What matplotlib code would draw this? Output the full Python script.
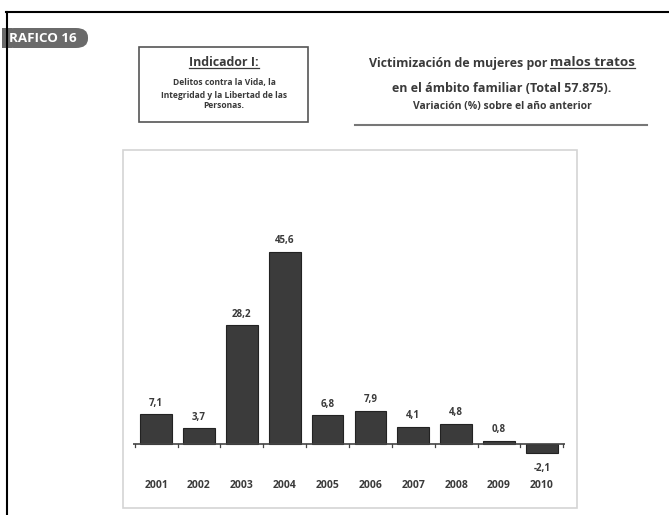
import matplotlib
matplotlib.use("Agg")
import matplotlib.pyplot as plt
from matplotlib.patches import FancyBboxPatch, Rectangle
from matplotlib.lines import Line2D

years = ["2001", "2002", "2003", "2004", "2005", "2006", "2007", "2008", "2009", "2010"]
values = [7.1, 3.7, 28.2, 45.6, 6.8, 7.9, 4.1, 4.8, 0.8, -2.1]
value_labels = ["7,1", "3,7", "28,2", "45,6", "6,8", "7,9", "4,1", "4,8", "0,8", "-2,1"]

W, H = 669, 515
FONT = ["Open Sans", "DejaVu Sans"]
plt.rcParams['font.family'] = FONT

fig = plt.figure(figsize=(W / 100, H / 100), dpi=100)
fig.patch.set_facecolor("white")

def fx(px):
    return px / W

def fy(py):
    return 1 - py / H

TXT = "#3a3a3a"

# badge
fig.add_artist(FancyBboxPatch((fx(2), fy(48)), fx(86), fy(28) - fy(48),
                              boxstyle="round,pad=0,rounding_size=0.018",
                              fc="#6a6a6a", ec="none", transform=fig.transFigure))
fig.add_artist(Rectangle((fx(2), fy(48)), fx(10), fy(28) - fy(48), fc="#6a6a6a", ec="none",
                         transform=fig.transFigure))
fig.text(fx(9), fy(38), "RAFICO 16", color="white", fontsize=9.6, fontweight="bold",
         ha="left", va="center")

# frame lines (top and left)
fig.add_artist(Line2D([fx(6), fx(669)], [fy(12), fy(12)], color="black", lw=1.5))
fig.add_artist(Line2D([fx(7), fx(7)], [fy(12), fy(515)], color="black", lw=1.5))

# indicator box
fig.add_artist(Rectangle((fx(139), fy(122)), fx(308 - 139), fy(47) - fy(122),
                         fill=False, ec="#555555", lw=1.2, transform=fig.transFigure))
t_ind = fig.text(fx(224), fy(63), "Indicador I:", fontsize=8.9, fontweight="bold",
                 color=TXT, ha="center", va="center")
for txt, yy in [("Delitos contra la Vida, la", 83),
                ("Integridad y la Libertad de las", 95),
                ("Personas.", 106)]:
    fig.text(fx(224), fy(yy), txt, fontsize=6.1, fontweight="bold", color=TXT,
             ha="center", va="center")

# right titles
t1a = fig.text(fx(370), fy(63), "Victimización de mujeres por ", fontsize=8.9,
               fontweight="bold", color=TXT, ha="left", va="center")
t1b = fig.text(fx(0), fy(63), "malos tratos", fontsize=9.7, fontweight="bold",
               color=TXT, ha="left", va="center")
fig.text(fx(502), fy(88), "en el ámbito familiar (Total 57.875).", fontsize=9.0,
         fontweight="bold", color=TXT, ha="center", va="center")
fig.text(fx(502), fy(107), "Variación (%) sobre el año anterior", fontsize=7.5,
         fontweight="bold", color=TXT, ha="center", va="center")
fig.add_artist(Line2D([fx(355), fx(647)], [fy(125), fy(125)], color="#777777", lw=1.5))

# chart box
fig.add_artist(Rectangle((fx(123), fy(508)), fx(577 - 123), fy(150) - fy(508),
                         fill=False, ec="#d4d4d4", lw=1.2, transform=fig.transFigure))

# axes
base_py = 444
px_per_unit = 192 / 45.6
ax_top, ax_bot = 220, 460
ax = fig.add_axes([fx(133), fy(ax_bot), fx(565 - 133), fy(ax_top) - fy(ax_bot)])
ax.set_ylim(-(ax_bot - base_py) / px_per_unit, (base_py - ax_top) / px_per_unit)
ax.set_xlim(-0.54, len(years) - 0.46)
x = list(range(len(years)))
ax.bar(x, values, width=0.74, color="#3b3b3b", edgecolor="#222222", linewidth=0.8)
ax.axhline(0, color="#444444", lw=1.2)
for xi in range(len(years) + 1):
    ax.plot([xi - 0.5, xi - 0.5], [0, -0.8], color="#444444", lw=0.9, clip_on=False)
for xi, v, lab in zip(x, values, value_labels):
    if v >= 0:
        ax.annotate(lab, (xi, v), xytext=(0, 4), textcoords="offset points",
                    ha="center", va="bottom", fontsize=7, fontweight="bold", color=TXT)
    else:
        ax.annotate(lab, (xi, v), xytext=(0, -7), textcoords="offset points",
                    ha="center", va="top", fontsize=7, fontweight="bold", color=TXT)
for xi, yr in zip(x, years):
    ax.annotate(yr, (xi, 0), xytext=(0, -(485 - base_py) * 0.72), textcoords="offset points",
                ha="center", va="center", fontsize=7.5, fontweight="bold", color=TXT)
ax.axis("off")

# position the two pieces of the first title line and underline
fig.canvas.draw()
r = fig.canvas.get_renderer()
inv = fig.transFigure.inverted()
wa = t1a.get_window_extent(r).width
wb = t1b.get_window_extent(r).width
start = 502 - (wa + wb) / 2
t1a.set_x(fx(start))
t1b.set_x(fx(start + wa))
fig.canvas.draw()
for t in (t_ind, t1b):
    bb = t.get_window_extent(r)
    (x0, y0), (x1, y1) = inv.transform([(bb.x0, bb.y0), (bb.x1, bb.y1)])
    fig.add_artist(Line2D([x0, x1], [y0 + 0.002, y0 + 0.002], color=TXT, lw=0.9))

fig.savefig("out.png", dpi=100, facecolor="white")
